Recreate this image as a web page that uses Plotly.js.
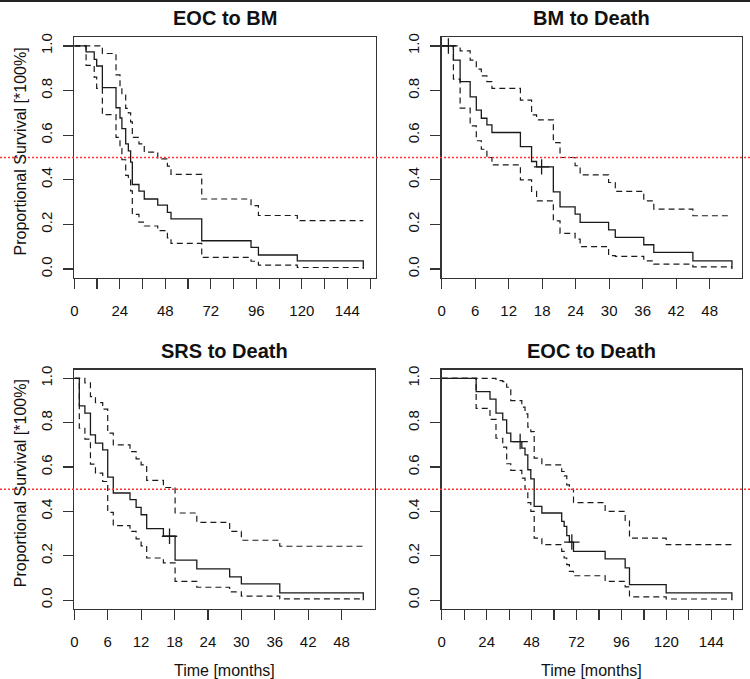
<!DOCTYPE html>
<html>
<head>
<meta charset="utf-8">
<script src="https://cdn.plot.ly/plotly-3.0.1.min.js"></script>
<style>html,body{margin:0;padding:0;background:#fff;}#chart{width:750px;height:679px;}</style>
</head>
<body>
<div id="chart"></div>
<script>
// ---------- DATA ----------
const panelTitles = ["EOC to BM", "BM to Death", "SRS to Death", "EOC to Death"];
const yAxisTitle = "Proportional Survival [*100%]";
const xAxisTitle = "Time [months]";

// Y tick labels
const yTickVals = [0, 0.2, 0.4, 0.6, 0.8, 1.0];
const yTickText = ["0.0", "0.2", "0.4", "0.6", "0.8", "1.0"];
// X ticks (long panels: tick every 12, label every 24)
const xTicksLong = [0, 12, 24, 36, 48, 60, 72, 84, 96, 108, 120, 132, 144, 156];
const xLabelsLong = ["0", "", "24", "", "48", "", "72", "", "96", "", "120", "", "144", ""];
const xTicksShort = [0, 6, 12, 18, 24, 30, 36, 42, 48];
const xLabelsShort = ["0", "6", "12", "18", "24", "30", "36", "42", "48"];
const medianLine = 0.5;

// EOC to BM
const eocBmTimes = [6.2, 10.5, 11.8, 14.8, 22.0, 24.1, 25.1, 27.1, 28.5, 29.7, 30.6, 34.1, 36.9, 44.0, 49.1, 51.0, 67.2, 93.2, 97.1, 117.6, 152.4];
const eocBmSurv  = [0.973, 0.94, 0.91, 0.813, 0.723, 0.677, 0.629, 0.561, 0.53, 0.479, 0.379, 0.349, 0.314, 0.287, 0.254, 0.225, 0.127, 0.097, 0.063, 0.037, 0];
const eocBmUpper = [1, 1, 1, 0.966, 0.87, 0.81, 0.78, 0.72, 0.70, 0.66, 0.59, 0.561, 0.524, 0.494, 0.461, 0.424, 0.314, 0.284, 0.24, 0.217];
const eocBmLower = [0.913, 0.86, 0.81, 0.692, 0.59, 0.54, 0.49, 0.42, 0.40, 0.35, 0.245, 0.21, 0.193, 0.172, 0.14, 0.115, 0.052, 0.035, 0.018, 0.007];
const eocBmCensor = [];

// BM to Death
const bmTimes = [2.1, 3.3, 5.1, 6.2, 7.1, 8.1, 9.0, 14.1, 16.1, 17.0, 20.0, 21.2, 23.9, 24.8, 29.9, 31.1, 36.2, 38.0, 45.0, 52.0];
const bmSurv  = [0.936, 0.84, 0.772, 0.712, 0.676, 0.646, 0.612, 0.549, 0.482, 0.458, 0.346, 0.279, 0.246, 0.209, 0.176, 0.142, 0.109, 0.075, 0.037, 0];
const bmUpper = [1, 0.978, 0.936, 0.896, 0.866, 0.84, 0.81, 0.757, 0.691, 0.669, 0.567, 0.5, 0.463, 0.422, 0.388, 0.348, 0.306, 0.269, 0.239];
const bmLower = [0.851, 0.721, 0.642, 0.575, 0.537, 0.5, 0.467, 0.4, 0.348, 0.306, 0.216, 0.16, 0.134, 0.101, 0.06, 0.057, 0.037, 0.022, 0.01];
const bmCensor = [1.2, 17.9];

// SRS to Death
const srsTimes = [0.9, 1.9, 2.9, 3.8, 5.1, 6.0, 7.0, 10.0, 11.1, 12.0, 13.0, 16.0, 18.1, 22.0, 27.9, 30.0, 36.9, 51.9];
const srsSurv  = [0.876, 0.843, 0.745, 0.708, 0.678, 0.555, 0.483, 0.453, 0.418, 0.385, 0.322, 0.288, 0.18, 0.141, 0.105, 0.073, 0.033, 0];
const srsUpper = [1, 0.98, 0.918, 0.891, 0.861, 0.753, 0.7, 0.67, 0.637, 0.61, 0.54, 0.508, 0.393, 0.351, 0.31, 0.27, 0.243];
const srsLower = [0.775, 0.726, 0.613, 0.573, 0.535, 0.396, 0.336, 0.31, 0.276, 0.245, 0.19, 0.168, 0.085, 0.058, 0.037, 0.018, 0.006];
const srsCensor = [17.1];

// EOC to Death
const eodTimes = [18.4, 25.8, 29.0, 32.6, 34.7, 36.9, 42.8, 44.5, 46.0, 47.6, 49.4, 53.5, 64.1, 65.4, 66.8, 68.2, 70.4, 87.3, 98.0, 100.3, 119.9, 155.0];
const eodSurv  = [0.94, 0.906, 0.843, 0.813, 0.753, 0.715, 0.685, 0.655, 0.588, 0.547, 0.423, 0.393, 0.355, 0.333, 0.291, 0.262, 0.22, 0.186, 0.145, 0.07, 0.033, 0];
const eodUpper = [1, 1, 0.99, 0.985, 0.96, 0.9, 0.87, 0.84, 0.78, 0.76, 0.64, 0.61, 0.58, 0.56, 0.52, 0.5, 0.44, 0.40, 0.36, 0.28, 0.25];
const eodLower = [0.865, 0.815, 0.73, 0.69, 0.615, 0.585, 0.55, 0.5, 0.44, 0.4, 0.28, 0.25, 0.22, 0.19, 0.16, 0.13, 0.11, 0.085, 0.06, 0.015, 0.005];
const eodCensor = [41.9, 69.5];

// ---------- LAYOUT GEOMETRY (pixels) ----------
const W = 750, H = 679;
const boxes = [
  {l: 74.3, r: 376, t: 37, b: 278, xr: [0, 159.1], long: true},
  {l: 441.7, r: 742, t: 37, b: 278, xr: [0, 53.8], long: false},
  {l: 74.3, r: 375, t: 369.5, b: 609, xr: [0, 54.0], long: false},
  {l: 441.7, r: 742, t: 369.5, b: 609, xr: [0, 160.4], long: true}
];
const yRange = [-0.04, 1.04];

const panels = [
  {times: eocBmTimes, surv: eocBmSurv, upper: eocBmUpper, lower: eocBmLower, censor: eocBmCensor},
  {times: bmTimes, surv: bmSurv, upper: bmUpper, lower: bmLower, censor: bmCensor},
  {times: srsTimes, surv: srsSurv, upper: srsUpper, lower: srsLower, censor: srsCensor},
  {times: eodTimes, surv: eodSurv, upper: eodUpper, lower: eodLower, censor: eodCensor}
];

const FONT = "Liberation Sans, Arial, Helvetica, sans-serif";
const INK = "#1a1a1a";
const FRAME = "#333";

const traces = [];
const layout = {
  width: W, height: H,
  margin: {l: 0, r: 0, t: 0, b: 0},
  paper_bgcolor: "#fff", plot_bgcolor: "#fff",
  showlegend: false,
  font: {family: FONT, color: "#111", size: 15},
  annotations: [], shapes: []
};

function survAt(times, surv, t) {
  let v = 1;
  for (let i = 0; i < times.length; i++) { if (times[i] <= t) v = surv[i]; }
  return v;
}

panels.forEach((p, i) => {
  const k = i === 0 ? "" : String(i + 1);
  const xa = "x" + k, ya = "y" + k;
  const bx = boxes[i];
  const tEnd = p.times[p.times.length - 1];

  traces.push({
    type: "scatter", mode: "lines", xaxis: xa, yaxis: ya,
    x: [0].concat(p.times), y: [1].concat(p.surv),
    line: {shape: "hv", color: INK, width: 1.3}, hoverinfo: "skip"
  });
  const ciT = [0].concat(p.times.slice(0, p.upper.length)).concat([tEnd]);
  [p.upper, p.lower].forEach(ci => {
    traces.push({
      type: "scatter", mode: "lines", xaxis: xa, yaxis: ya,
      x: ciT, y: [1].concat(ci).concat([ci[ci.length - 1]]),
      line: {shape: "hv", color: INK, width: 1.2, dash: "6px,4px"}, hoverinfo: "skip"
    });
  });
  if (p.censor.length) {
    traces.push({
      type: "scatter", mode: "markers", xaxis: xa, yaxis: ya,
      x: p.censor, y: p.censor.map(t => survAt(p.times, p.surv, t)),
      marker: {symbol: "cross-thin", size: 11, line: {color: INK, width: 1.3}}, hoverinfo: "skip"
    });
  }

  const xdom = [bx.l / W, bx.r / W];
  const ydom = [1 - bx.b / H, 1 - bx.t / H];
  const tickfont = {family: FONT, size: 15, color: "#111"};

  layout["xaxis" + k] = {
    domain: xdom, range: bx.xr, anchor: ya,
    showgrid: false, zeroline: false, showline: true, mirror: true,
    linecolor: FRAME, linewidth: 1.3,
    ticks: "outside", ticklen: 10, tickwidth: 1.2, tickcolor: FRAME,
    tickmode: "array",
    tickvals: bx.long ? xTicksLong : xTicksShort,
    ticktext: bx.long ? xLabelsLong : xLabelsShort,
    ticklabelstandoff: 9,
    tickfont: tickfont, fixedrange: true
  };
  layout["yaxis" + k] = {
    domain: ydom, range: yRange, anchor: xa,
    showgrid: false, zeroline: false, showline: true, mirror: true,
    linecolor: FRAME, linewidth: 1.3,
    ticks: "outside", ticklen: 10, tickwidth: 1.2, tickcolor: FRAME,
    tickmode: "array", tickvals: yTickVals, ticktext: yTickText,
    tickangle: -90, ticklabelstandoff: 5,
    tickfont: tickfont, fixedrange: true
  };

  layout.annotations.push({
    text: "<b>" + panelTitles[i] + "</b>", xref: "paper", yref: "paper",
    x: (xdom[0] + xdom[1]) / 2, y: 1 - (bx.t - 6) / H,
    xanchor: "center", yanchor: "bottom", showarrow: false,
    font: {family: FONT, size: 20, color: "#111"}
  });
  if (i === 0 || i === 2) {
    layout.annotations.push({
      text: yAxisTitle, xref: "paper", yref: "paper",
      x: 20 / W, y: 1 - ((bx.t + bx.b) / 2 - 6) / H,
      xanchor: "center", yanchor: "middle", textangle: -90, showarrow: false,
      font: {family: FONT, size: 16, color: "#111"}
    });
  }
  if (i >= 2) {
    layout.annotations.push({
      text: xAxisTitle, xref: "paper", yref: "paper",
      x: (xdom[0] + xdom[1]) / 2, y: 1 - 670 / H,
      xanchor: "center", yanchor: "middle", showarrow: false,
      font: {family: FONT, size: 16, color: "#111"}
    });
  }
});

// red dotted median lines spanning the full figure width, one per row
[0, 2].forEach(i => {
  const bx = boxes[i];
  const ydom = [1 - bx.b / H, 1 - bx.t / H];
  const yp = ydom[0] + (medianLine - yRange[0]) / (yRange[1] - yRange[0]) * (ydom[1] - ydom[0]);
  layout.shapes.push({
    type: "line", xref: "paper", yref: "paper", x0: 0, x1: 1, y0: yp, y1: yp,
    line: {color: "#ff3030", width: 1.5, dash: "2px,2px"}, layer: "above"
  });
});
// top border line of the figure
layout.shapes.push({
  type: "line", xref: "paper", yref: "paper", x0: 0, x1: 1, y0: 1 - 1 / H, y1: 1 - 1 / H,
  line: {color: "#222", width: 2}
});

Plotly.newPlot("chart", traces, layout, {staticPlot: true, displayModeBar: false});
</script>
</body>
</html>
